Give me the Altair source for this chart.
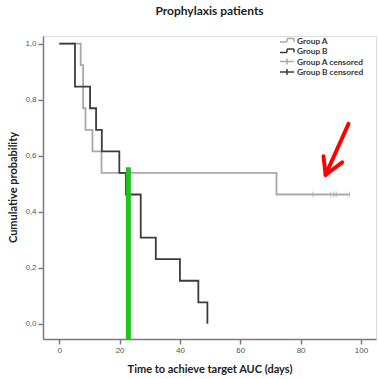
import altair as alt
import pandas as pd

# ---- data ----
a_time = [0, 7.1, 7.9, 8.7, 11.0, 14.0, 72.0, 96.2]
a_surv = [1.0, 12/13, 10/13, 9/13, 8/13, 7/13, 6/13, 6/13]
b_time = [0, 5.2, 10.2, 12.2, 14.1, 19.9, 22.1, 27.0, 32.0, 40.0, 46.1, 49.1]
b_surv = [1.0, 11/13, 10/13, 9/13, 8/13, 7/13, 6/13, 4/13, 3/13, 2/13, 1/13, 0.0]
a_censor_time = [84.1, 90.0, 91.0, 91.8, 96.2]
a_censor_surv = [6/13] * 5
green_x = [22.9]
green_top = [0.559]
arrow_x = [95.9, 88.3, 88.3]
arrow_y = [0.714, 0.532, 0.532]
arrow_x2 = [88.3, 87.6, 93.8]
arrow_y2 = [0.532, 0.598, 0.576]
x_ticks = [0, 20, 40, 60, 80, 100]
y_ticks = [0.0, 0.2, 0.4, 0.6, 0.8, 1.0]
legend_labels = ["Group A", "Group B", "Group A censored", "Group B censored"]
title_text = ["Prophylaxis patients"]

W, H = 333, 303
FONT = "Lato"
COL_A = "#a9a9a9"
COL_B = "#3c3c3c"

xs = alt.Scale(domain=[-5.4, 105], nice=False, zero=False)
ys = alt.Scale(domain=[-0.054, 1.027], nice=False, zero=False)

curves = pd.DataFrame({
    "t": a_time + b_time,
    "s": a_surv + b_surv,
    "g": ["A"] * len(a_time) + ["B"] * len(b_time),
})

base_x = alt.X("t:Q", scale=xs, axis=alt.Axis(
    values=x_ticks, title="Time to achieve target AUC (days)", grid=False,
    titleY=33, titleBaseline="alphabetic", titleFont=FONT, titleFontSize=11,
    titleFontWeight="bold", titleColor="#222",
    labelFont="Liberation Sans", labelFontSize=8, labelColor="#555",
    domainColor="#7a7a7a", domainWidth=1.5, tickColor="#7a7a7a", tickWidth=1.5,
    tickSize=5, labelPadding=2))
base_y = alt.Y("s:Q", scale=ys, axis=alt.Axis(
    values=y_ticks, title="Cumulative probability", grid=False,
    labelExpr="replace(format(datum.value, '.1f'), '.', ',')",
    titleX=-30, titleY=151, titleAlign="center", titleBaseline="middle",
    titleFont=FONT, titleFontSize=11, titleFontWeight="bold", titleColor="#222",
    labelFont="Liberation Sans", labelFontSize=8, labelColor="#555",
    domainColor="#7a7a7a", domainWidth=1.5, tickColor="#7a7a7a", tickWidth=1.5,
    tickSize=5, labelPadding=2))

lines = alt.Chart(curves).mark_line(interpolate="step-after", strokeWidth=1.8).encode(
    x=base_x, y=base_y,
    color=alt.Color("g:N", scale=alt.Scale(domain=["A", "B"], range=[COL_A, COL_B]), legend=None),
    detail="g:N",
)

cens = alt.Chart(pd.DataFrame({"t": a_censor_time, "s": a_censor_surv})).mark_tick(
    color=COL_A, size=6, thickness=1, orient="vertical").encode(
    x=alt.X("t:Q", scale=xs), y=alt.Y("s:Q", scale=ys))

green = alt.Chart(pd.DataFrame({"t": green_x, "s": green_top})).mark_rule(
    color="#1ec41e", strokeWidth=5).encode(
    x=alt.X("t:Q", scale=xs), y=alt.Y("s:Q", scale=ys), y2=alt.value(H))

arrow = alt.Chart(pd.DataFrame({"x": arrow_x, "y": arrow_y, "x2": arrow_x2, "y2": arrow_y2})).mark_rule(
    color="#ff0000", strokeWidth=4, strokeCap="round").encode(
    x=alt.X("x:Q", scale=xs), y=alt.Y("y:Q", scale=ys), x2="x2:Q", y2="y2:Q")

# ---- hand-placed legend (pixel positions relative to plot area) ----
lx0, lx1, row0, dy = 237, 251, 6, 10.5
segs = []
for i, col in enumerate([COL_A, COL_B]):
    yb = row0 + i * dy
    segs += [
        (lx0, yb, lx0 + 7, yb, col),
        (lx0 + 7, yb, lx0 + 7, yb - 3.5, col),
        (lx0 + 7, yb - 3.5, lx1, yb - 3.5, col),
        (lx1, yb - 3.5, lx1, yb, col),
    ]
for i, col in enumerate([COL_A, COL_B]):
    yb = row0 + (i + 2) * dy - 1.5
    segs += [(lx0, yb, lx1, yb, col), (lx0 + 7, yb - 3, lx0 + 7, yb + 3, col)]
seg_df = pd.DataFrame(segs, columns=["x", "y", "x2", "y2", "c"])
leg_sym = alt.Chart(seg_df).mark_rule(strokeWidth=1.5).encode(
    x=alt.X("x:Q", scale=None), y=alt.Y("y:Q", scale=None),
    x2="x2:Q", y2="y2:Q", color=alt.Color("c:N", scale=None))

txt_df = pd.DataFrame({"label": legend_labels,
                       "y": [row0 + 1.5 + i * dy for i in range(4)]})
leg_txt = alt.Chart(txt_df).mark_text(
    align="left", baseline="alphabetic", font=FONT, fontSize=8.3,
    fontWeight="bold", color="#333").encode(
    x=alt.value(lx1 + 3), y=alt.Y("y:Q", scale=None), text="label:N")

title = alt.Chart(pd.DataFrame({"title": title_text})).mark_text(
    align="center", baseline="alphabetic", font=FONT, fontSize=12,
    fontWeight="bold", color="#222").encode(
    x=alt.value(W / 2), y=alt.value(-21.5), text="title:N")

chart = alt.layer(lines, cens, green, arrow, leg_sym, leg_txt, title).properties(
    width=W, height=H,
    autosize=alt.AutoSizeParams(type="none"),
    padding={"left": 43, "top": 36, "right": 2, "bottom": 40},
).configure_view(stroke="#b5b5b5", strokeWidth=1.2).configure(background="white")

chart.save("out.html", embed_options={"renderer": "svg", "actions": False})
